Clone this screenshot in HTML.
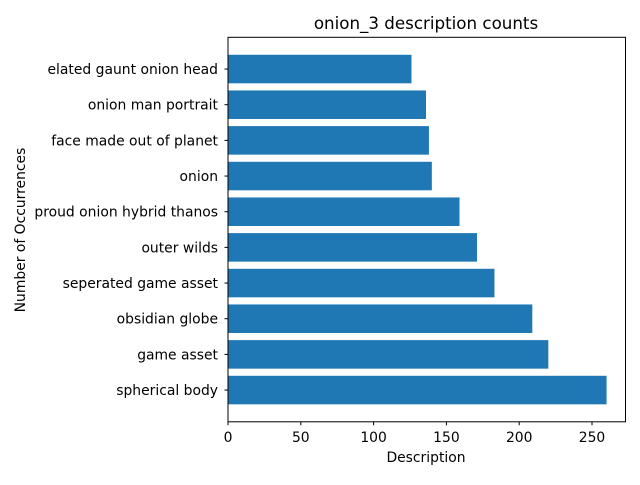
<!DOCTYPE html>
<html><head><meta charset="utf-8"><style>
body{margin:0;background:#fff;}
svg{font-family:"DejaVu Sans","Liberation Sans",sans-serif;}
</style></head><body>
<svg id="chart" width="640" height="480">
<text x="426" y="29" font-size="16.7" text-anchor="middle">onion_3 description counts</text>
<text x="426" y="462" font-size="13.9" text-anchor="middle">Description</text>
<text transform="translate(25,230) rotate(-90)" font-size="13.9" text-anchor="middle">Number of Occurrences</text>
<g id="bars"></g><g id="xticks"></g><g id="yticks"></g>
<rect x="228" y="37.3" width="397.5" height="384.5" fill="none" stroke="#000" stroke-width="1"/>
</svg>
<script>
const categories=["spherical body","game asset","obsidian globe","seperated game asset","outer wilds","proud onion hybrid thanos","onion","face made out of planet","onion man portrait","elated gaunt onion head"];
const counts=[260,220,209,183,171,159,140,138,136,126];
const xTickValues=[0,50,100,150,200,250];
const NS="http://www.w3.org/2000/svg";
const L=228,R=625.5,T=37.3,B=421.8;
const xmax=Math.max(...counts)*1.05;
const xs=v=>L+v/xmax*(R-L);
const n=categories.length;
const span=(n-1)+0.8+0.98;
const ys=i=>B-(i+0.49+0.4)/span*(B-T);
const step=(B-T)/span;
function mk(t,a,p){const e=document.createElementNS(NS,t);for(const k in a)e.setAttribute(k,a[k]);p.appendChild(e);return e;}
const gb=document.getElementById('bars'),gx=document.getElementById('xticks'),gy=document.getElementById('yticks');
counts.forEach((v,i)=>{
 const r=mk('rect',{x:xs(0),y:ys(i)-0.4*step,width:xs(v)-xs(0),height:0.8*step,fill:'#1f77b4'},gb);
 
 
 const tk=mk('line',{x1:L,x2:L-3.5,y1:ys(i),y2:ys(i),stroke:'#000'},gy);
 
 
 const t=mk('text',{x:L-10,y:ys(i)+5,'font-size':13.9,'text-anchor':'end'},gy);
 t.textContent=categories[i];
 
 
});
xTickValues.forEach(v=>{
 const tk=mk('line',{x1:xs(v),x2:xs(v),y1:B,y2:B+3.5,stroke:'#000'},gx);
 
 
 const t=mk('text',{x:xs(v),y:B+20,'font-size':13.9,'text-anchor':'middle'},gx);
 t.textContent=v;
 
 
});
</script>
</body></html>
